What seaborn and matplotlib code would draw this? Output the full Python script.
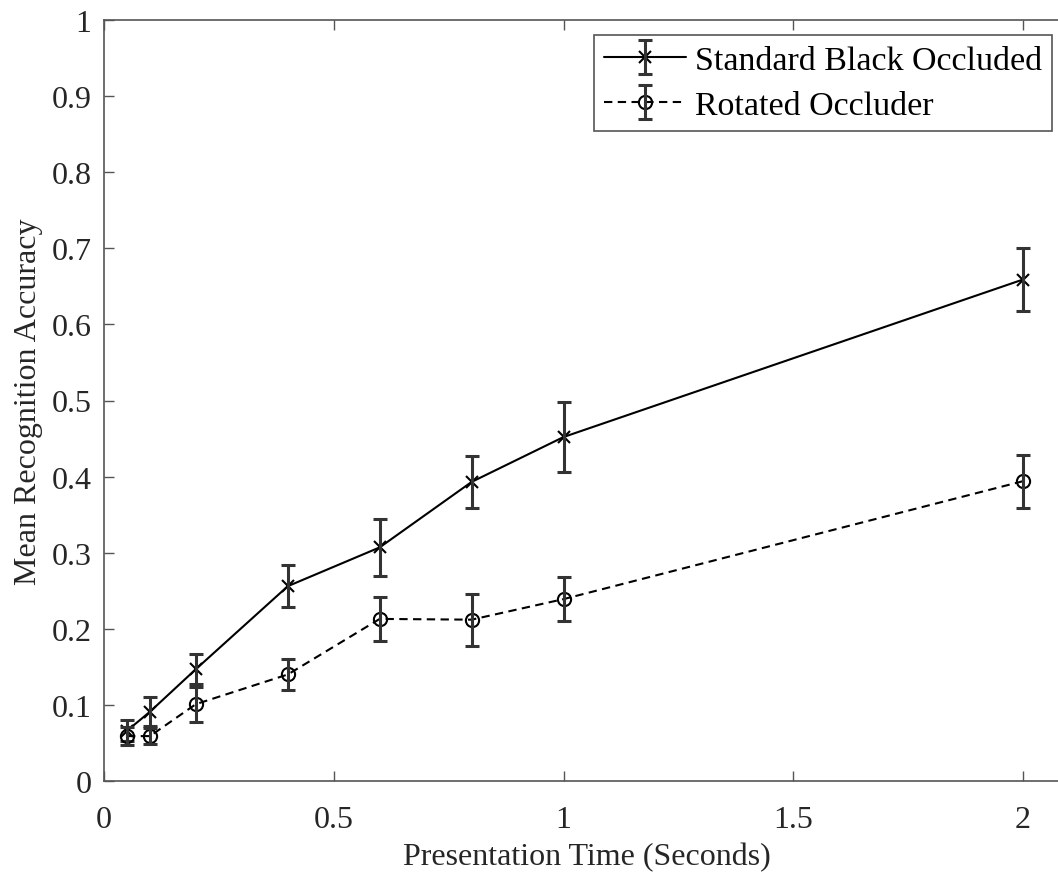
import numpy as np
import pandas as pd
import matplotlib
matplotlib.use("Agg")
import matplotlib.pyplot as plt
import seaborn as sns
from matplotlib.legend_handler import HandlerTuple
from matplotlib.ticker import FuncFormatter

# ===================== DATOS =====================
tiempos = [0.05, 0.1, 0.2, 0.4, 0.6, 0.8, 1.0, 2.0]

estandar_media = [0.066, 0.091, 0.147, 0.256, 0.307, 0.393, 0.452, 0.659]
estandar_error = [0.014, 0.019, 0.020, 0.028, 0.037, 0.034, 0.046, 0.041]

rotado_media = [0.059, 0.059, 0.101, 0.140, 0.213, 0.212, 0.239, 0.394]
rotado_error = [0.012, 0.010, 0.023, 0.020, 0.029, 0.034, 0.029, 0.035]

etiquetas = ["Standard Black Occluded", "Rotated Occluder"]

df = pd.DataFrame({
    "tiempo": tiempos * 2,
    "media": estandar_media + rotado_media,
    "error": estandar_error + rotado_error,
    "condicion": [etiquetas[0]] * len(tiempos) + [etiquetas[1]] * len(tiempos),
})

# ===================== ESTILO =====================
sns.set_style("ticks")
plt.rcParams["font.family"] = ["Liberation Serif", "DejaVu Serif"]
plt.rcParams["font.size"] = 23
texto = "#262626"
eje = "#555555"

fig = plt.figure(figsize=(10.58, 8.78), dpi=100)
ax = fig.add_axes([104 / 1058, 96 / 878, 965 / 1058, 761 / 878])

estilos = {
    etiquetas[0]: dict(marker="x", ls="-", ms=9),
    etiquetas[1]: dict(marker="o", ls=(0, (4, 2.6)), ms=9.5),
}

handles = []
for cond in etiquetas:
    sub = df[df["condicion"] == cond]
    st = estilos[cond]
    sns.lineplot(x="tiempo", y="media", data=sub, ax=ax, color="black",
                 linewidth=1.5, linestyle=st["ls"], marker=st["marker"],
                 markersize=st["ms"], markerfacecolor="none",
                 markeredgecolor="black", markeredgewidth=1.5,
                 errorbar=None, sort=False)
    linea = ax.lines[-1]
    eb = ax.errorbar(sub["tiempo"], sub["media"], yerr=sub["error"],
                     fmt="none", ecolor="#333333", elinewidth=2.2,
                     capsize=5, capthick=2.2)
    handles.append((linea, eb))

# ===================== EJES =====================
ax.set_xlim(0, 2.1)
ax.set_ylim(0, 1)
ax.set_xticks([0, 0.5, 1, 1.5, 2])
ax.set_yticks(np.arange(0, 1.01, 0.1))
fmt = FuncFormatter(lambda v, p: f"{v:g}")
ax.xaxis.set_major_formatter(fmt)
ax.yaxis.set_major_formatter(fmt)

ax.tick_params(direction="in", length=7, width=1, color=eje,
               labelcolor=texto, top=True, right=True)
ax.tick_params(axis="y", pad=9)
ax.tick_params(axis="x", pad=17)
for s in ax.spines.values():
    s.set_color(eje)
    s.set_linewidth(1.2)

ax.set_xlabel("Presentation Time (Seconds)", color=texto, labelpad=6)
ax.set_ylabel("Mean Recognition Accuracy", color=texto, labelpad=6)

leg = ax.legend(handles, etiquetas, handler_map={tuple: HandlerTuple(ndivide=1)},
                loc="upper right", bbox_to_anchor=(1052 / 1058, 1 - 36 / 878),
                bbox_transform=fig.transFigure, borderaxespad=0,
                fancybox=False, framealpha=1,
                edgecolor=eje, handlelength=2.4, handletextpad=0.25,
                borderpad=0.3, labelspacing=0.42, fontsize=24.5)
leg.get_frame().set_linewidth(1.2)
for t in leg.get_texts():
    t.set_color("black")

fig.savefig("out.png", dpi=100)
